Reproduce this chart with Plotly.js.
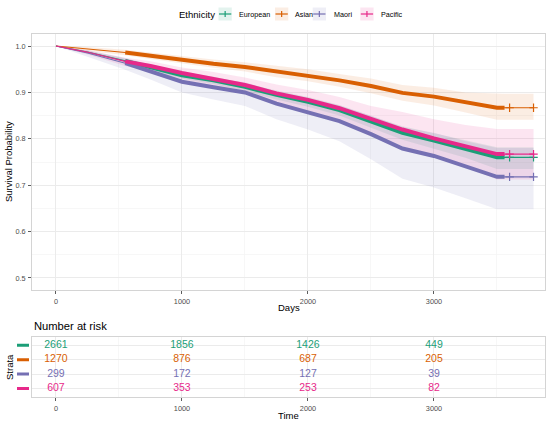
<!DOCTYPE html>
<html>
<head>
<meta charset="utf-8">
<script src="https://cdn.plot.ly/plotly-3.0.1.min.js"></script>
<style>html,body{margin:0;padding:0;background:#fff;}#chart{width:550px;height:421px;}</style>
</head>
<body>
<div id="chart"></div>
<script>
// ---------------- data ----------------
const groups = ["European", "Asian", "Maori", "Pacific"];
const colors = ["#1B9E77", "#D95F02", "#7570B3", "#E7298A"];
const fills  = ["rgba(27,158,119,0.12)", "rgba(217,95,2,0.11)", "rgba(117,112,179,0.12)", "rgba(231,41,138,0.12)"];

const times = [0, 250, 550, 750, 1000, 1250, 1500, 1750, 2000, 2250, 2500, 2750, 3000, 3250, 3500, 3560, 3790];

const survEuropean = [1, .987, .968, .955, .937, .926, .912, .895, .880, .862, .837, .813, .796, .779, .760, .760, .760];
const lowerEuropean = [1, .984, .963, .949, .930, .918, .903, .885, .869, .850, .824, .798, .779, .759, .735, .735, .735];
const upperEuropean = [1, .990, .973, .961, .944, .934, .920, .904, .890, .873, .849, .827, .812, .797, .782, .782, .782];

const survAsian = [1, .994, .986, .979, .970, .962, .955, .945, .937, .926, .914, .899, .891, .879, .867, .867, .867];
const lowerAsian = [1, .990, .980, .972, .962, .953, .945, .933, .924, .912, .898, .882, .872, .857, .841, .841, .841];
const upperAsian = [1, .998, .992, .986, .978, .971, .965, .957, .950, .940, .930, .916, .910, .900, .897, .897, .897];

const survMaori = [1, .985, .963, .946, .923, .911, .900, .876, .858, .838, .810, .779, .763, .741, .718, .718, .718];
const lowerMaori = [1, .977, .949, .928, .900, .885, .871, .842, .820, .795, .756, .714, .695, .672, .648, .648, .648];
const upperMaori = [1, .991, .974, .960, .941, .931, .922, .902, .888, .872, .850, .825, .813, .795, .780, .780, .780];

const survPacific = [1, .987, .967, .957, .942, .930, .916, .898, .884, .866, .843, .820, .801, .785, .767, .767, .767];
const lowerPacific = [1, .982, .957, .945, .928, .914, .898, .877, .860, .839, .812, .784, .761, .740, .712, .712, .712];
const upperPacific = [1, .991, .975, .967, .954, .944, .932, .917, .905, .890, .871, .858, .842, .830, .821, .821, .821];

// dense censoring period and the late single censor marks
const censorStart = 550;
const censorEnd = 3560;
const lateCensorTimes = [3600, 3790];

// number at risk table
const riskTimes = [0, 1000, 2000, 3000];
const riskEuropean = [2661, 1856, 1426, 449];
const riskAsian = [1270, 876, 687, 205];
const riskMaori = [299, 172, 127, 39];
const riskPacific = [607, 353, 253, 82];

const xTicks = [0, 1000, 2000, 3000];
const yTicks = [0.5, 0.6, 0.7, 0.8, 0.9, 1.0];
const yTickLabels = ["0.5", "0.6", "0.7", "0.8", "0.9", "1.0"];

// ---------------- build ----------------
const surv = [survEuropean, survAsian, survMaori, survPacific];
const lower = [lowerEuropean, lowerAsian, lowerMaori, lowerPacific];
const upper = [upperEuropean, upperAsian, upperMaori, upperPacific];
const risk = [riskEuropean, riskAsian, riskMaori, riskPacific];

function stepValue(s, t) {
  let v = s[0];
  for (let i = 0; i < times.length; i++) { if (times[i] <= t) v = s[i]; }
  return v;
}

const FONT = "Liberation Sans, Arial, Helvetica, sans-serif";
const traces = [];

// confidence bands
groups.forEach((g, i) => {
  traces.push({
    x: times.concat(times.slice().reverse()),
    y: upper[i].concat(lower[i].slice().reverse()),
    type: "scatter", mode: "lines", fill: "toself",
    fillcolor: fills[i], line: {width: 0, color: "rgba(0,0,0,0)"},
    hoverinfo: "skip", showlegend: false, xaxis: "x", yaxis: "y"
  });
});

// survival curves
groups.forEach((g, i) => {
  traces.push({
    x: times, y: surv[i], type: "scatter", mode: "lines", name: g,
    line: {color: colors[i], width: 1.1}, showlegend: false, xaxis: "x", yaxis: "y"
  });
  const cx = [], cy = [];
  times.forEach((t, k) => { if (t >= censorStart && t <= censorEnd) { cx.push(t); cy.push(surv[i][k]); } });
  traces.push({
    x: cx, y: cy, type: "scatter", mode: "lines", name: g + " censored",
    line: {color: colors[i], width: 4.0}, showlegend: false, hoverinfo: "skip", xaxis: "x", yaxis: "y"
  });
  traces.push({
    x: lateCensorTimes, y: lateCensorTimes.map(t => stepValue(surv[i], t)),
    type: "scatter", mode: "markers", showlegend: false, hoverinfo: "skip",
    marker: {symbol: "cross-thin", size: 6, line: {color: colors[i], width: 1.2}, color: colors[i]},
    xaxis: "x", yaxis: "y"
  });
});

// risk table
const rowPos = [4, 3, 2, 1];
groups.forEach((g, i) => {
  traces.push({
    x: riskTimes, y: riskTimes.map(() => rowPos[i]), text: risk[i].map(String),
    type: "scatter", mode: "text", textposition: "middle center",
    textfont: {family: FONT, size: 10.5, color: colors[i]},
    showlegend: false, hoverinfo: "skip", xaxis: "x2", yaxis: "y2"
  });
});

// ---------------- layout helpers (pixel -> paper) ----------------
const ML = 32, MR = 5, MT = 34, MB = 24, W = 550, H = 421;
const PW = W - ML - MR, PH = H - MT - MB;
const px = v => (v - ML) / PW;
const py = v => (H - MB - v) / PH;

const shapes = [];
const annotations = [];

// strata colour bars in table
groups.forEach((g, i) => {
  shapes.push({type: "line", xref: "paper", yref: "y2", x0: px(17), x1: px(29), y0: rowPos[i], y1: rowPos[i],
    line: {color: colors[i], width: 3}});
});

// custom legend
annotations.push({text: "Ethnicity", xref: "paper", yref: "paper", x: px(176.5), y: py(14), xanchor: "left", yanchor: "middle",
  showarrow: false, font: {family: FONT, size: 9.5, color: "#000"}});
const keyX = [218.5, 275, 312.7, 360.3];
const labelX = [236.5, 293.3, 331.5, 379];
groups.forEach((g, i) => {
  const x0 = keyX[i], x1 = keyX[i] + 13.3;
  shapes.push({type: "rect", xref: "paper", yref: "paper", x0: px(x0), x1: px(x1), y0: py(20.5), y1: py(7.5),
    fillcolor: fills[i], line: {width: 0}});
  shapes.push({type: "line", xref: "paper", yref: "paper", x0: px(x0 + 0.5), x1: px(x1 - 0.5), y0: py(14), y1: py(14),
    line: {color: colors[i], width: 1.2}});
  shapes.push({type: "line", xref: "paper", yref: "paper", x0: px((x0 + x1) / 2), x1: px((x0 + x1) / 2), y0: py(11), y1: py(17),
    line: {color: colors[i], width: 1.2}});
  annotations.push({text: g, xref: "paper", yref: "paper", x: px(labelX[i]), y: py(14), xanchor: "left", yanchor: "middle",
    showarrow: false, font: {family: FONT, size: 7.2, color: "#000"}});
});

// titles
annotations.push({text: "Survival Probability", xref: "paper", yref: "paper", x: px(8), y: py(162), textangle: -90,
  xanchor: "center", yanchor: "middle", showarrow: false, font: {family: FONT, size: 9.5, color: "#000"}});
annotations.push({text: "Days", xref: "paper", yref: "paper", x: px(288.5), y: py(307.5), xanchor: "center", yanchor: "middle",
  showarrow: false, font: {family: FONT, size: 9.5, color: "#000"}});
annotations.push({text: "Number at risk", xref: "paper", yref: "paper", x: px(32), y: py(326), xanchor: "left", yanchor: "middle",
  showarrow: false, font: {family: FONT, size: 11.2, color: "#000"}});
annotations.push({text: "Strata", xref: "paper", yref: "paper", x: px(9), y: py(367), textangle: -90,
  xanchor: "center", yanchor: "middle", showarrow: false, font: {family: FONT, size: 9.5, color: "#000"}});
annotations.push({text: "Time", xref: "paper", yref: "paper", x: px(288.5), y: py(415), xanchor: "center", yanchor: "middle",
  showarrow: false, font: {family: FONT, size: 9.5, color: "#000"}});

const xRange = [-190, 3881];
const axisCommon = {
  showline: true, linecolor: "#D4D4D4", linewidth: 1, mirror: true,
  gridcolor: "#EBEBEB", gridwidth: 1, zeroline: false,
  ticks: "outside", ticklen: 3, tickcolor: "#333333", tickwidth: 0.8,
  tickfont: {family: FONT, size: 7.3, color: "#4D4D4D"}
};

const layout = {
  width: W, height: H,
  margin: {l: ML, r: MR, t: MT, b: MB, pad: 0},
  paper_bgcolor: "#FFFFFF", plot_bgcolor: "#FFFFFF",
  showlegend: false,
  xaxis: Object.assign({}, axisCommon, {
    domain: [0, 1], range: xRange, tickvals: xTicks, ticktext: xTicks.map(String),
    minor: {dtick: 500, tick0: 0, showgrid: true, gridcolor: "#F4F4F4", gridwidth: 0.7, ticks: ""},
    anchor: "y", ticklabelstandoff: 1
  }),
  yaxis: Object.assign({}, axisCommon, {
    domain: [py(290), 1], range: [0.474, 1.026], tickvals: yTicks, ticktext: yTickLabels,
    minor: {dtick: 0.05, tick0: 0, showgrid: true, gridcolor: "#F4F4F4", gridwidth: 0.7, ticks: ""},
    anchor: "x", ticklabelstandoff: 1
  }),
  xaxis2: Object.assign({}, axisCommon, {
    domain: [0, 1], range: xRange, tickvals: xTicks, ticktext: xTicks.map(String),
    minor: {dtick: 500, tick0: 0, showgrid: true, gridcolor: "#F4F4F4", gridwidth: 0.7, ticks: ""},
    anchor: "y2", ticklabelstandoff: 1
  }),
  yaxis2: Object.assign({}, axisCommon, {
    domain: [0, py(336.7)], range: [0.4, 4.6], tickvals: rowPos, showticklabels: false, ticks: "",
    anchor: "x2"
  }),
  shapes: shapes,
  annotations: annotations
};

Plotly.newPlot("chart", traces, layout, {staticPlot: true, displayModeBar: false});
</script>
</body>
</html>
